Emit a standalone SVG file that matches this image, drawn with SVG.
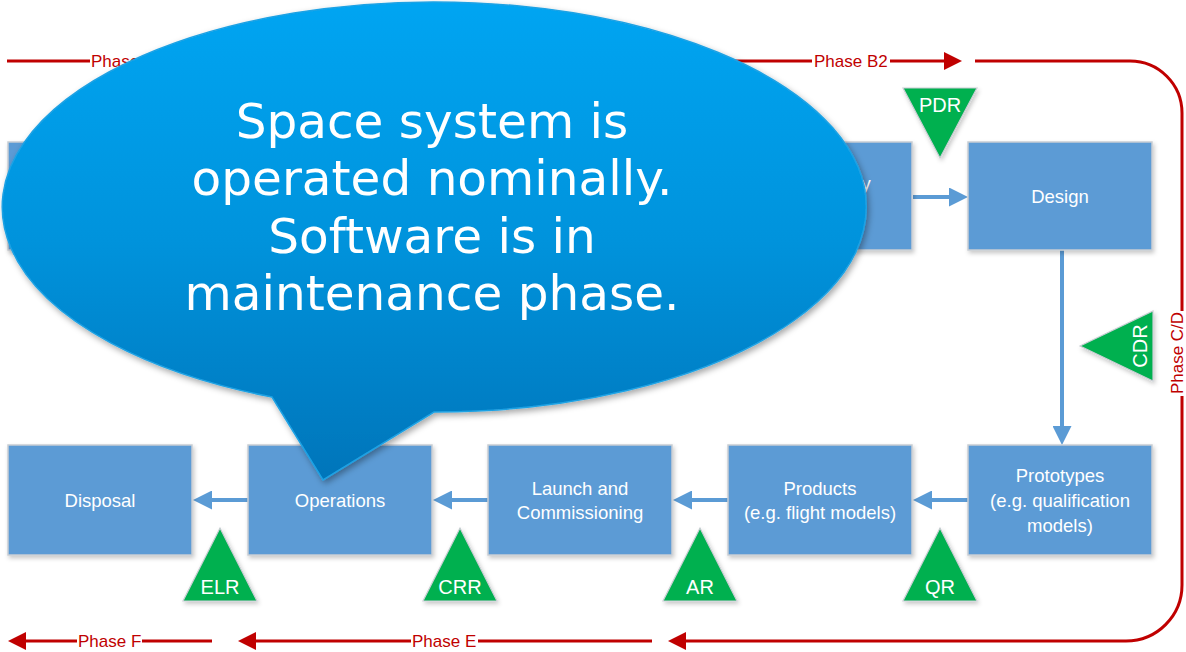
<svg xmlns="http://www.w3.org/2000/svg" width="1186" height="652" viewBox="0 0 1186 652">
  <defs>
    <style>
      .box { fill: #5B9BD5; stroke: #C8CDD3; stroke-width: 1.5; filter: url(#softShadow); }
      .boxText { font-family: "Liberation Sans", Arial, sans-serif; font-size: 18.5px; fill: #FFFFFF; text-anchor: middle; }
      .flow { stroke: #5B9BD5; stroke-width: 4; fill: none; marker-end: url(#blueHead); }
      .review { fill: #00B050; stroke: #C9CED3; stroke-width: 1.2; filter: url(#softShadow); }
      .reviewText { font-family: "Liberation Sans", Arial, sans-serif; font-size: 20px; fill: #FFFFFF; text-anchor: middle; }
      .phase { stroke: #C00000; stroke-width: 3; fill: none; }
      .phaseArrow { stroke: #C00000; stroke-width: 3; fill: none; marker-end: url(#redHead); }
      .phaseText { font-family: "Liberation Sans", Arial, sans-serif; font-size: 17px; fill: #C00000; }
      .calloutText { font-family: "DejaVu Sans", Verdana, sans-serif; font-size: 48.5px; fill: #FFFFFF; text-anchor: middle; }
    </style>
    <filter id="softShadow" x="-20%" y="-20%" width="140%" height="140%">
      <feDropShadow dx="1.5" dy="2.5" stdDeviation="2" flood-color="#000000" flood-opacity="0.22"/>
    </filter>
    <filter id="calloutShadow" x="-10%" y="-10%" width="120%" height="125%">
      <feDropShadow dx="2" dy="3" stdDeviation="3" flood-color="#000000" flood-opacity="0.35"/>
    </filter>
    <linearGradient id="calloutFill" gradientUnits="userSpaceOnUse" x1="0" y1="0" x2="0" y2="480">
      <stop offset="0" stop-color="#00A5F2"/>
      <stop offset="0.5" stop-color="#0093DC"/>
      <stop offset="1" stop-color="#0075BA"/>
    </linearGradient>
    <marker id="blueHead" markerUnits="userSpaceOnUse" markerWidth="19" markerHeight="19" viewBox="0 0 19 19" refX="11" refY="9.5" orient="auto">
      <path d="M0,0 L19,9.5 L0,19 Z" fill="#5B9BD5"/>
    </marker>
    <marker id="redHead" markerUnits="userSpaceOnUse" markerWidth="18" markerHeight="18" viewBox="0 0 18 18" refX="10" refY="9" orient="auto">
      <path d="M0,0 L18,9 L0,18 Z" fill="#C00000"/>
    </marker>
  </defs>

  <rect width="1186" height="652" fill="#FFFFFF"/>

  <!-- phase timeline -->
  <g id="phases">
    <path class="phase" d="M7 61 H90"/>
    <text class="phaseText" x="91" y="67">Phase</text>
    <path class="phase" d="M700 61 H812"/>
    <text class="phaseText" x="814" y="67">Phase B2</text>
    <path class="phaseArrow" d="M890 61 H954"/>
    <path class="phase" d="M975 61 H1130 A52 52 0 0 1 1182 113 V311"/>
    <text class="phaseText" transform="translate(1183,353) rotate(-90)" text-anchor="middle">Phase C/D</text>
    <path class="phaseArrow" d="M1182 396 V585 A56 56 0 0 1 1126 641 H676"/>
    <path class="phase" d="M652 641 H478"/>
    <text class="phaseText" x="412" y="647">Phase E</text>
    <path class="phaseArrow" d="M411 641 H246"/>
    <path class="phase" d="M212 641 H142"/>
    <text class="phaseText" x="78" y="647">Phase F</text>
    <path class="phaseArrow" d="M77 641 H16"/>
  </g>

  <!-- flow between stages -->
  <g id="connectors">
    <path class="flow" d="M913 197 H960"/>
    <path class="flow" d="M1062 250 V437"/>
    <path class="flow" d="M968 500 H921"/>
    <path class="flow" d="M728 500 H681"/>
    <path class="flow" d="M488 500 H441"/>
    <path class="flow" d="M248 500 H201"/>
  </g>

  <!-- stages -->
  <g id="stage-top-left">
    <rect class="box" x="8" y="142" width="184" height="108"/>
  </g>
  <g id="stage-top-right">
    <rect class="box" x="728" y="142" width="184" height="108"/>
    <text class="boxText" x="866" y="189.5" text-anchor="start">y</text>
  </g>
  <g id="stage-design">
    <rect class="box" x="968" y="142" width="184" height="108"/>
    <text class="boxText" x="1060" y="203">Design</text>
  </g>
  <g id="stage-prototypes">
    <rect class="box" x="968" y="445" width="184" height="110"/>
    <text class="boxText" x="1060" y="482">Prototypes</text>
    <text class="boxText" x="1060" y="507">(e.g. qualification</text>
    <text class="boxText" x="1060" y="532">models)</text>
  </g>
  <g id="stage-products">
    <rect class="box" x="728" y="445" width="184" height="110"/>
    <text class="boxText" x="820" y="495">Products</text>
    <text class="boxText" x="820" y="519">(e.g. flight models)</text>
  </g>
  <g id="stage-launch">
    <rect class="box" x="488" y="445" width="184" height="110"/>
    <text class="boxText" x="580" y="495">Launch and</text>
    <text class="boxText" x="580" y="519">Commissioning</text>
  </g>
  <g id="stage-operations">
    <rect class="box" x="248" y="445" width="184" height="110"/>
    <text class="boxText" x="340" y="507">Operations</text>
  </g>
  <g id="stage-disposal">
    <rect class="box" x="8" y="445" width="184" height="110"/>
    <text class="boxText" x="100" y="507">Disposal</text>
  </g>

  <!-- reviews -->
  <g id="review-pdr">
    <polygon class="review" points="903,88 977,88 940,158"/>
    <text class="reviewText" x="940" y="112">PDR</text>
  </g>
  <g id="review-cdr">
    <polygon class="review" points="1080,346 1153,311 1153,381"/>
    <text class="reviewText" transform="translate(1147,346) rotate(-90)">CDR</text>
  </g>
  <g id="review-qr">
    <polygon class="review" points="940,528 977,601 903,601"/>
    <text class="reviewText" x="940" y="594">QR</text>
  </g>
  <g id="review-ar">
    <polygon class="review" points="700,528 737,601 663,601"/>
    <text class="reviewText" x="700" y="594">AR</text>
  </g>
  <g id="review-crr">
    <polygon class="review" points="460,528 497,601 423,601"/>
    <text class="reviewText" x="460" y="594">CRR</text>
  </g>
  <g id="review-elr">
    <polygon class="review" points="220,528 257,601 183,601"/>
    <text class="reviewText" x="220" y="594">ELR</text>
  </g>

  <!-- speech bubble -->
  <g id="callout">
    <path d="M272 397 A432 205 0 1 1 434 412 L323 480 Z" fill="url(#calloutFill)" stroke="#1EA2E4" stroke-width="1.5" filter="url(#calloutShadow)"/>
    <text class="calloutText" x="432" y="138">Space system is</text>
    <text class="calloutText" x="432" y="195">operated nominally.</text>
    <text class="calloutText" x="432" y="253">Software is in</text>
    <text class="calloutText" x="432" y="310">maintenance phase.</text>
  </g>
</svg>
